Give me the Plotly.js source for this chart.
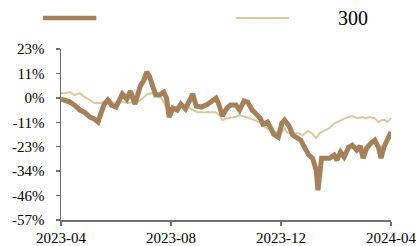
<!DOCTYPE html>
<html>
<head>
<meta charset="utf-8">
<script src="https://cdn.plot.ly/plotly-3.0.1.min.js"></script>
<style>html,body{margin:0;padding:0;background:#fff;}#chart{width:420px;height:246px;}</style>
</head>
<body>
<div id="chart"></div>
<script>
var seriesAName = "";
var seriesBName = "300";

var datesA = ["2023-04-01","2023-04-05","2023-04-11","2023-04-16","2023-04-22","2023-04-27","2023-05-03","2023-05-08","2023-05-12","2023-05-15","2023-05-19","2023-05-23","2023-05-27","2023-06-01","2023-06-05","2023-06-08","2023-06-13","2023-06-17","2023-06-22","2023-06-25","2023-06-28","2023-07-02","2023-07-05","2023-07-08","2023-07-12","2023-07-15","2023-07-19","2023-07-24","2023-07-27","2023-07-30","2023-08-03","2023-08-08","2023-08-12","2023-08-17","2023-08-22","2023-08-25","2023-08-29","2023-09-04","2023-09-11","2023-09-16","2023-09-20","2023-09-23","2023-09-27","2023-10-02","2023-10-06","2023-10-12","2023-10-16","2023-10-21","2023-10-25","2023-10-30","2023-11-03","2023-11-08","2023-11-11","2023-11-16","2023-11-19","2023-11-23","2023-11-28","2023-12-02","2023-12-05","2023-12-10","2023-12-14","2023-12-19","2023-12-23","2023-12-27","2024-01-01","2024-01-05","2024-01-09","2024-01-11","2024-01-13","2024-01-15","2024-01-20","2024-01-24","2024-01-29","2024-02-01","2024-02-05","2024-02-09","2024-02-14","2024-02-18","2024-02-23","2024-02-27","2024-03-01","2024-03-05","2024-03-10","2024-03-14","2024-03-18","2024-03-21","2024-03-24","2024-03-28","2024-04-01"];
var valuesA = [-0.6,-1.0,-2.0,-3.4,-5.7,-6.7,-9.0,-9.9,-11.3,-7.6,-2.9,-1.0,-3.4,-4.3,-1.0,1.8,-0.6,3.2,-2.9,2.2,5.5,8.3,12.1,10.2,5.1,1.3,1.3,2.7,-0.1,-9.0,-4.8,-5.7,-2.9,-5.2,-1.0,1.8,-3.8,-4.3,-2.9,-1.0,-0.1,-2.9,-8.5,-4.8,-3.4,-3.4,-5.7,-1.5,-2.0,-5.7,-7.1,-9.5,-12.3,-11.3,-13.7,-17.0,-18.4,-11.8,-10.4,-13.2,-17.4,-18.4,-19.8,-23.1,-26.8,-28.2,-33.8,-43.2,-36.2,-28.2,-28.2,-28.2,-26.8,-29.2,-25.4,-27.7,-23.1,-22.1,-24.5,-22.6,-28.2,-23.5,-21.2,-19.8,-23.1,-28.2,-23.1,-19.8,-16.0];

var datesB = ["2023-04-01","2023-04-05","2023-04-11","2023-04-16","2023-04-22","2023-04-27","2023-05-03","2023-05-08","2023-05-14","2023-05-19","2023-05-23","2023-05-28","2023-06-03","2023-06-08","2023-06-14","2023-06-20","2023-06-25","2023-07-01","2023-07-06","2023-07-11","2023-07-14","2023-07-17","2023-07-21","2023-07-27","2023-08-02","2023-08-07","2023-08-11","2023-08-14","2023-08-20","2023-08-25","2023-08-31","2023-09-05","2023-09-13","2023-09-19","2023-09-24","2023-09-27","2023-10-03","2023-10-11","2023-10-16","2023-10-22","2023-10-27","2023-11-02","2023-11-08","2023-11-13","2023-11-19","2023-11-24","2023-12-02","2023-12-05","2023-12-08","2023-12-14","2023-12-20","2023-12-25","2023-12-31","2024-01-04","2024-01-09","2024-01-13","2024-01-19","2024-01-24","2024-01-30","2024-02-02","2024-02-06","2024-02-10","2024-02-14","2024-02-18","2024-02-24","2024-02-29","2024-03-05","2024-03-08","2024-03-14","2024-03-18","2024-03-22","2024-03-25","2024-03-28","2024-04-01"];
var valuesB = [2.2,2.2,2.7,1.3,2.2,0.4,-1.0,-2.4,-2.4,-2.0,-0.1,-2.0,-2.4,-2.0,-2.4,-2.0,-2.0,-0.1,1.8,2.2,1.3,2.2,-0.1,-4.3,-5.7,-4.3,-2.4,-4.8,-4.3,-5.7,-6.7,-6.7,-6.7,-6.7,-8.1,-10.4,-9.5,-9.0,-8.1,-9.0,-9.5,-10.4,-11.8,-13.7,-15.1,-16.0,-16.0,-14.1,-16.5,-16.5,-16.5,-17.4,-15.5,-16.5,-18.8,-16.5,-15.1,-14.1,-11.8,-11.3,-10.4,-9.5,-9.0,-8.5,-9.5,-9.0,-9.5,-9.0,-9.5,-11.3,-10.4,-10.4,-11.3,-9.5];

var yTickVals = [22.857,11.429,0,-11.429,-22.857,-34.286,-45.714,-57.143];
var yTickText = ["23%","11%","0%","-11%","-23%","-34%","-46%","-57%"];
var xTickVals = ["2023-04-01","2023-08-01","2023-12-01","2024-04-01"];
var xTickText = ["2023-04","2023-08","2023-12","2024-04"];

var colorA = "#A5805A";
var colorB = "#DCC89E";
var fontFam = "Liberation Serif, Times New Roman, serif";

var traces = [
  {x: datesB, y: valuesB, type: "scatter", mode: "lines", name: seriesBName,
   line: {color: colorB, width: 2}, showlegend: false, hoverinfo: "skip"},
  {x: datesA, y: valuesA, type: "scatter", mode: "lines", name: seriesAName,
   line: {color: colorA, width: 5, shape: "linear"}, showlegend: false, hoverinfo: "skip"}
];

var layout = {
  width: 420, height: 246,
  margin: {l: 61, r: 29, t: 49, b: 26, pad: 0},
  paper_bgcolor: "#fff", plot_bgcolor: "#fff",
  font: {family: fontFam, size: 15, color: "#000"},
  showlegend: false,
  xaxis: {
    type: "date", range: ["2023-04-01", "2024-04-01"],
    tickmode: "array", tickvals: xTickVals, ticktext: xTickText,
    showgrid: false, zeroline: false, showline: true, linecolor: "#6e6e6e", linewidth: 1.5,
    ticks: "outside", ticklen: 4, tickcolor: "#6e6e6e", tickwidth: 1.5,
    ticklabelstandoff: -1,
    tickfont: {family: fontFam, size: 15, color: "#000"}, fixedrange: true
  },
  yaxis: {
    range: [-57.143, 22.857],
    tickmode: "array", tickvals: yTickVals, ticktext: yTickText,
    showgrid: false, zeroline: false, showline: true, linecolor: "#6e6e6e", linewidth: 1.5,
    ticks: "outside", ticklen: 4, tickcolor: "#6e6e6e", tickwidth: 1.5,
    ticklabelstandoff: 8,
    tickfont: {family: fontFam, size: 15, color: "#000"}, fixedrange: true
  },
  shapes: [
    {type: "line", xref: "paper", yref: "paper", x0: -0.055, x1: 0.107, y0: 1.181, y1: 1.181,
     line: {color: colorA, width: 4.5}},
    {type: "line", xref: "paper", yref: "paper", x0: 0.53, x1: 0.691, y0: 1.181, y1: 1.181,
     line: {color: colorB, width: 2}}
  ],
  annotations: [
    {xref: "paper", yref: "paper", x: 0.833, y: 1.181, xanchor: "left", yanchor: "middle",
     text: seriesBName, showarrow: false, font: {family: fontFam, size: 20, color: "#000"}}
  ]
};

Plotly.newPlot("chart", traces, layout, {staticPlot: true, displayModeBar: false});
</script>
</body>
</html>
